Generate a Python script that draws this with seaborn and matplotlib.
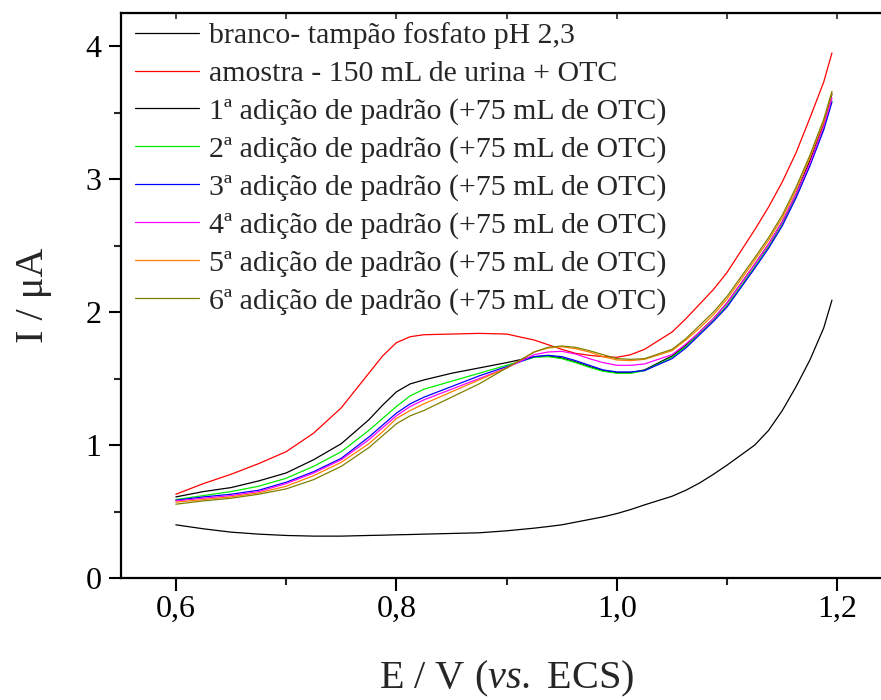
import numpy as np
import pandas as pd
import matplotlib
matplotlib.use("Agg")
import matplotlib.pyplot as plt
import seaborn as sns

# ---------------- data ----------------
potential = [0.600, 0.625, 0.650, 0.675, 0.700, 0.725, 0.750, 0.775, 0.7875, 0.800,
             0.8125, 0.825, 0.850, 0.875, 0.900, 0.925, 0.9375, 0.950, 0.9625, 0.975,
             0.9875, 1.000, 1.0125, 1.025, 1.050, 1.0625, 1.075, 1.0875, 1.100, 1.125,
             1.1375, 1.150, 1.1625, 1.175, 1.1875, 1.195]

branco = [0.40, 0.37, 0.345, 0.33, 0.32, 0.315, 0.315, 0.32, 0.322, 0.325,
          0.327, 0.33, 0.335, 0.34, 0.355, 0.375, 0.387, 0.40, 0.42, 0.44,
          0.46, 0.485, 0.515, 0.55, 0.615, 0.66, 0.715, 0.78, 0.85, 1.00,
          1.11, 1.26, 1.44, 1.64, 1.88, 2.09]
amostra = [0.63, 0.71, 0.78, 0.86, 0.95, 1.09, 1.28, 1.54, 1.67, 1.77,
           1.815, 1.83, 1.835, 1.84, 1.835, 1.79, 1.755, 1.72, 1.69, 1.675,
           1.665, 1.66, 1.68, 1.72, 1.85, 1.95, 2.06, 2.17, 2.30, 2.62,
           2.79, 2.98, 3.20, 3.46, 3.73, 3.95]
adicao1 = [0.61, 0.65, 0.68, 0.73, 0.79, 0.89, 1.01, 1.19, 1.30, 1.40,
           1.46, 1.49, 1.54, 1.58, 1.62, 1.665, 1.67, 1.655, 1.625, 1.59,
           1.56, 1.545, 1.545, 1.565, 1.67, 1.75, 1.85, 1.95, 2.07, 2.36,
           2.51, 2.68, 2.89, 3.14, 3.42, 3.64]
adicao2 = [0.59, 0.62, 0.65, 0.69, 0.75, 0.84, 0.95, 1.11, 1.20, 1.29,
           1.37, 1.42, 1.48, 1.54, 1.60, 1.66, 1.665, 1.65, 1.62, 1.585,
           1.555, 1.54, 1.54, 1.56, 1.66, 1.74, 1.84, 1.94, 2.05, 2.34,
           2.49, 2.66, 2.87, 3.11, 3.38, 3.59]
adicao3 = [0.585, 0.61, 0.63, 0.66, 0.72, 0.80, 0.90, 1.06, 1.15, 1.24,
           1.31, 1.36, 1.44, 1.52, 1.59, 1.665, 1.675, 1.665, 1.635, 1.60,
           1.565, 1.55, 1.55, 1.56, 1.65, 1.73, 1.83, 1.93, 2.04, 2.33,
           2.48, 2.65, 2.86, 3.10, 3.37, 3.58]
adicao4 = [0.58, 0.60, 0.62, 0.65, 0.71, 0.79, 0.89, 1.04, 1.13, 1.22,
           1.29, 1.34, 1.42, 1.50, 1.58, 1.68, 1.70, 1.705, 1.685, 1.65,
           1.62, 1.60, 1.60, 1.61, 1.68, 1.76, 1.85, 1.95, 2.07, 2.36,
           2.51, 2.68, 2.89, 3.12, 3.40, 3.61]
adicao5 = [0.57, 0.59, 0.61, 0.64, 0.69, 0.77, 0.87, 1.01, 1.10, 1.20,
           1.26, 1.31, 1.40, 1.49, 1.58, 1.70, 1.73, 1.74, 1.725, 1.70,
           1.665, 1.64, 1.635, 1.645, 1.71, 1.79, 1.88, 1.98, 2.10, 2.39,
           2.54, 2.71, 2.92, 3.16, 3.43, 3.65]
adicao6 = [0.555, 0.58, 0.60, 0.63, 0.67, 0.74, 0.84, 0.98, 1.07, 1.16,
           1.22, 1.26, 1.36, 1.46, 1.58, 1.70, 1.735, 1.745, 1.735, 1.71,
           1.68, 1.65, 1.645, 1.65, 1.72, 1.80, 1.90, 2.00, 2.12, 2.41,
           2.56, 2.73, 2.94, 3.18, 3.45, 3.66]

labels = ["branco- tampão fosfato pH 2,3",
          "amostra - 150 mL de urina + OTC",
          "1ª adição de padrão (+75 mL de OTC)",
          "2ª adição de padrão (+75 mL de OTC)",
          "3ª adição de padrão (+75 mL de OTC)",
          "4ª adição de padrão (+75 mL de OTC)",
          "5ª adição de padrão (+75 mL de OTC)",
          "6ª adição de padrão (+75 mL de OTC)"]
series = [branco, amostra, adicao1, adicao2, adicao3, adicao4, adicao5, adicao6]
colors = ["#000000", "#ff0000", "#000000", "#00ee00", "#0000ff",
          "#ff00ff", "#ff8000", "#808000"]

xticks = [0.6, 0.8, 1.0, 1.2]
xticklabels = ["0,6", "0,8", "1,0", "1,2"]
yticks = [0, 1, 2, 3, 4]
yticklabels = ["0", "1", "2", "3", "4"]

df = pd.DataFrame({
    "E": np.tile(potential, len(series)),
    "I": np.concatenate(series),
    "curva": np.repeat(labels, len(potential)),
})

# ---------------- style ----------------
sns.set_style("ticks")
plt.rcParams["font.family"] = ["Liberation Serif", "DejaVu Serif"]
plt.rcParams["mathtext.fontset"] = "custom"
plt.rcParams["mathtext.rm"] = "Liberation Serif"
plt.rcParams["mathtext.it"] = "Liberation Serif:italic"

fig = plt.figure(figsize=(8.81, 7.0), dpi=100)
ax = fig.add_axes([120.7 / 881, 122 / 700, (892.6 - 120.7) / 881, (578 - 13) / 700])

sns.lineplot(data=df, x="E", y="I", hue="curva", hue_order=labels,
             palette=dict(zip(labels, colors)), linewidth=0.9,
             estimator=None, sort=False, ax=ax)

ax.set_xlim(0.55, 1.25)
ax.set_ylim(0, 4.25)
ax.set_xticks(xticks)
ax.set_xticklabels(xticklabels)
ax.set_xticks([0.7, 0.9, 1.1], minor=True)
ax.set_yticks(yticks)
ax.set_yticklabels(yticklabels)
ax.set_yticks([0.5, 1.5, 2.5, 3.5], minor=True)

for s in ax.spines.values():
    s.set_linewidth(1.6)
    s.set_color("black")

ax.tick_params(axis="both", which="major", direction="out", length=9, width=1.5,
               labelsize=23, colors="black", pad=3)
ax.tick_params(axis="both", which="minor", direction="out", length=5, width=1.5)
ax.tick_params(axis="y", which="major", pad=5)

top = ax.secondary_xaxis("top")
top.set_xticks(xticks)
top.set_xticks([0.7, 0.9, 1.1], minor=True)
top.tick_params(axis="x", which="both", direction="in", length=4, width=1.2,
                labeltop=False)

ax.set_xlabel(r"E / V ($\mathit{vs.}$ ECS)", fontsize=29, labelpad=25)
ax.set_ylabel("I / μA", fontsize=29, labelpad=24)

leg = ax.legend(loc="upper left", bbox_to_anchor=(14 / 772, 1 - 9.5 / 565),
                frameon=False, fontsize=21.5, handlelength=2.17,
                handletextpad=0.33, labelspacing=0.36, borderaxespad=0,
                borderpad=0)
for line in leg.get_lines():
    line.set_linewidth(0.9)

fig.savefig("out.png", dpi=100)
